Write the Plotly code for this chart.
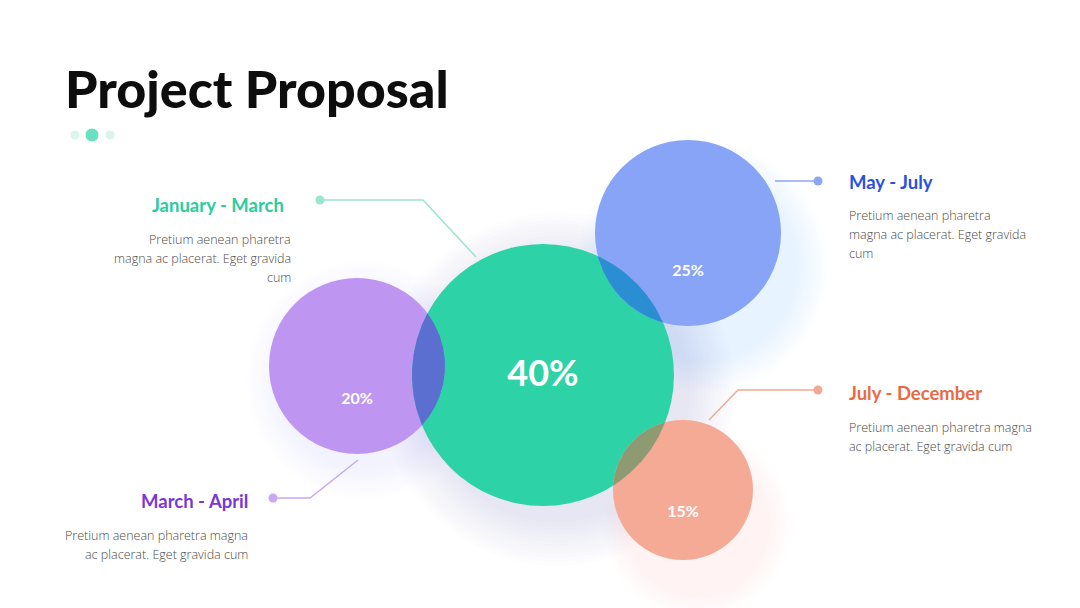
import numpy as np
import plotly.graph_objects as go

# ---- data ----
periods = ["January - March", "March - April", "May - July", "July - December"]
shares = [40, 20, 25, 15]
descriptions = [
    ["Pretium aenean pharetra", "magna ac placerat. Eget gravida", "cum"],
    ["Pretium aenean pharetra magna", "ac placerat. Eget gravida cum"],
    ["Pretium aenean pharetra", "magna ac placerat. Eget gravida", "cum"],
    ["Pretium aenean pharetra magna", "ac placerat. Eget gravida cum"],
]
title_text = "Project Proposal"

# ---- layout / style (pixel space) ----
W, H = 1080, 608
cx = [543, 357, 688, 683]
cy = [375, 366, 233, 490]
diam = [262, 176, 186, 140]
fill_colors = ["#2DD3A6", "#BE96F2", "#87A4F7", "#F5AA95"]
head_colors = ["#2DCB9E", "#7B35D9", "#2851DE", "#E96A45"]
line_colors = ["#9AE5CF", "#C9A8F3", "#8EA6F2", "#F2A994"]
lbl_y = [377, 400, 272, 513]
lbl_size = [36, 16, 16, 16]
# overlap tints
lens_pairs = [(0, 1), (0, 2), (0, 3)]
lens_colors = ["#5B6FD0", "#2B8ED2", "#8E9B72"]

# label blocks: (anchor, heading x, heading y, body x, first body y)
blocks = [("right", 286, 205, 293, 239), ("right", 250, 501, 250, 535),
          ("left", 847, 182, 847, 215), ("left", 847, 393, 847, 427)]
# connector polylines
connectors = [
    ([320, 423, 476], [200, 200, 257]),
    ([273, 310, 358], [498, 498, 460]),
    ([818, 775], [181, 181]),
    ([818, 738, 709], [390, 390, 420]),
]

fig = go.Figure()

# soft glows (many faint layers)
glow_off = [(14, 14), (8, 14), (14, 34), (14, 34)]
glow_rgb = ["110,110,130", "170,130,230", "110,140,240", "245,150,130"]
glow_alpha = [0.012, 0.009, 0.012, 0.012]
for k in range(4):
    for s in np.linspace(1.02, 1.35, 12):
        fig.add_trace(go.Scatter(
            x=[cx[k] + glow_off[k][0]], y=[cy[k] + glow_off[k][1]], mode="markers",
            marker=dict(size=diam[k] * s, color=f"rgba({glow_rgb[k]},{glow_alpha[k]})",
                        line=dict(width=0)),
            hoverinfo="skip", showlegend=False))

# connectors
for k, (xs, ys) in enumerate(connectors):
    fig.add_trace(go.Scatter(x=xs, y=ys, mode="lines",
                             line=dict(color=line_colors[k], width=1.5),
                             hoverinfo="skip", showlegend=False))
    fig.add_trace(go.Scatter(x=[xs[0]], y=[ys[0]], mode="markers",
                             marker=dict(size=9, color=line_colors[k]),
                             hoverinfo="skip", showlegend=False))

# bubbles
draw_order = [1, 0, 2, 3]
for k in draw_order:
    fig.add_trace(go.Scatter(
        x=[cx[k]], y=[cy[k]], mode="markers",
        marker=dict(size=diam[k], color=fill_colors[k], line=dict(width=0)),
        name=periods[k], hoverinfo="skip", showlegend=False))

# overlap lenses
t = np.linspace(0, 2 * np.pi, 720, endpoint=False)
for (a, b), col in zip(lens_pairs, lens_colors):
    ra, rb = diam[a] / 2, diam[b] / 2
    ax_, ay_ = cx[a] + ra * np.cos(t), cy[a] + ra * np.sin(t)
    bx_, by_ = cx[b] + rb * np.cos(t), cy[b] + rb * np.sin(t)
    ina = (ax_ - cx[b]) ** 2 + (ay_ - cy[b]) ** 2 <= rb ** 2
    inb = (bx_ - cx[a]) ** 2 + (by_ - cy[a]) ** 2 <= ra ** 2
    px = np.concatenate([ax_[ina], bx_[inb]])
    py = np.concatenate([ay_[ina], by_[inb]])
    ang = np.arctan2(py - py.mean(), px - px.mean())
    o = np.argsort(ang)
    fig.add_trace(go.Scatter(x=np.append(px[o], px[o][0]), y=np.append(py[o], py[o][0]),
                             mode="lines", fill="toself", fillcolor=col,
                             line=dict(width=0), hoverinfo="skip", showlegend=False))

# percentage labels
for k in range(4):
    fig.add_trace(go.Scatter(
        x=[cx[k]], y=[lbl_y[k]], mode="text", text=[f"{shares[k]}%"],
        textfont=dict(family="Lato", size=lbl_size[k], color="white", weight=700),
        hoverinfo="skip", showlegend=False))

# title dots
fig.add_trace(go.Scatter(x=[75, 92, 110], y=[135, 135, 135], mode="markers",
                         marker=dict(size=[10, 14, 10],
                                     color=["#C9F1E5", "#2DD3A6", "#C9F1E5"]),
                         hoverinfo="skip", showlegend=False))

ann = []
ann.append(dict(x=63, y=88, text=title_text, showarrow=False,
                xanchor="left", yanchor="middle",
                font=dict(family="Lato", size=52, color="#0D0D0D", weight=900)))
for k, (anc, hx, hy, bx, by) in enumerate(blocks):
    ann.append(dict(x=hx, y=hy, text=f"<b>{periods[k]}</b>", showarrow=False,
                    xanchor=anc, yanchor="middle",
                    font=dict(family="Lato", size=18.5, color=head_colors[k])))
    for i, line in enumerate(descriptions[k]):
        ann.append(dict(x=bx, y=by + 19 * i, text=line, showarrow=False,
                        xanchor=anc, yanchor="middle",
                        font=dict(family="Open Sans", size=12.5, color="#4A4A4A", weight=300)))

fig.update_layout(
    width=W, height=H, margin=dict(l=0, r=0, t=0, b=0),
    paper_bgcolor="white", plot_bgcolor="white",
    xaxis=dict(range=[0, W], visible=False, fixedrange=True),
    yaxis=dict(range=[H, 0], visible=False, fixedrange=True),
    annotations=ann, showlegend=False,
)
fig.write_html("out.html")
